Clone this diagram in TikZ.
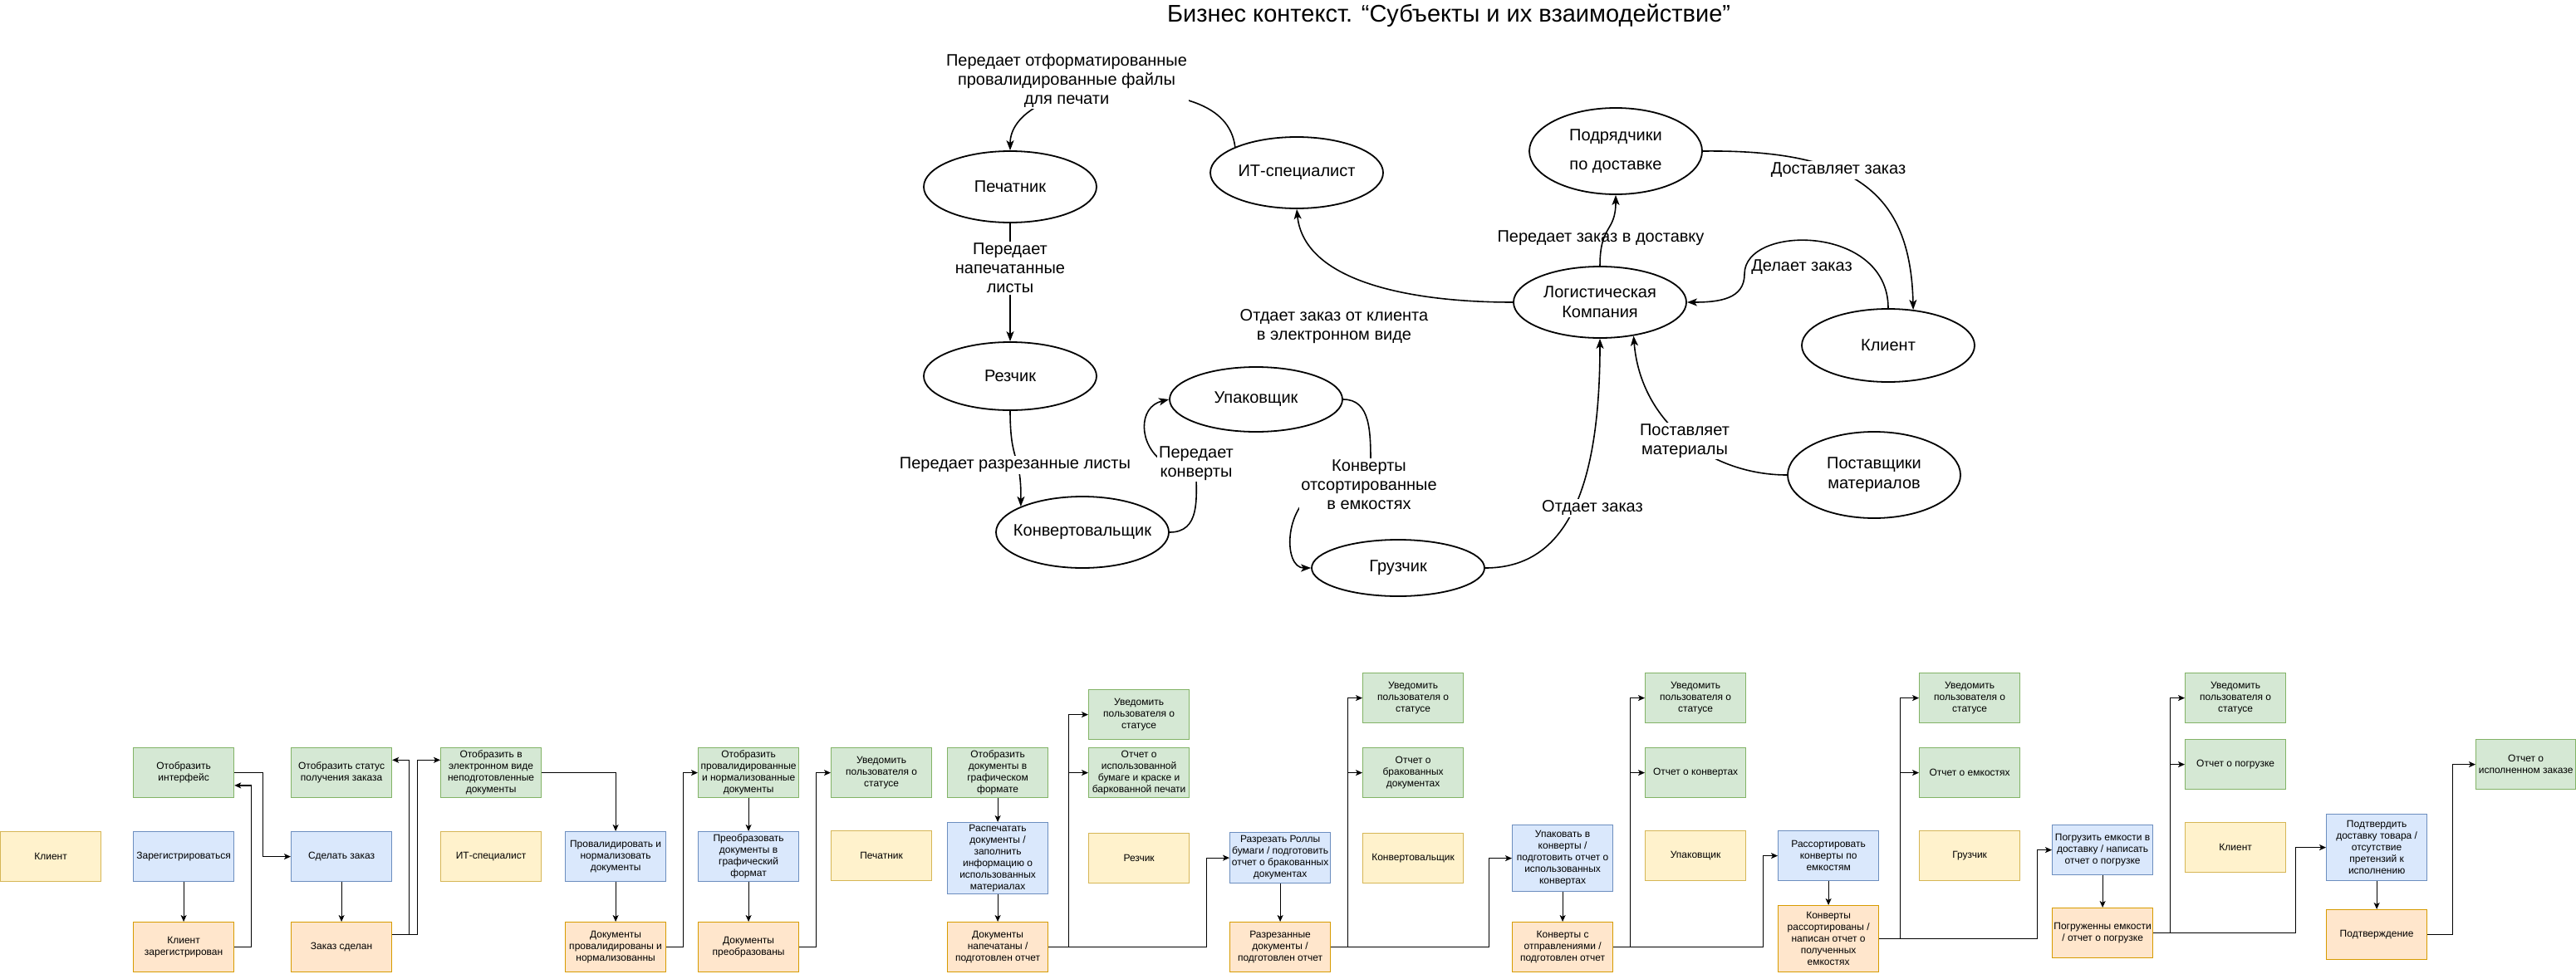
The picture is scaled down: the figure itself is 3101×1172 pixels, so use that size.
\documentclass[tikz,border=0pt]{standalone}
\usepackage{fontspec}
\setmainfont{Liberation Sans}
\usetikzlibrary{arrows.meta,calc,shapes.geometric}
\definecolor{gfill}{HTML}{D5E8D4}
\definecolor{gdraw}{HTML}{82B366}
\definecolor{bfill}{HTML}{DAE8FC}
\definecolor{bdraw}{HTML}{6C8EBF}
\definecolor{ofill}{HTML}{FFE6CC}
\definecolor{odraw}{HTML}{D79B00}
\definecolor{yfill}{HTML}{FFF2CC}
\definecolor{ydraw}{HTML}{D6B656}
\newcommand{\zb}[1]{\makebox[0pt]{#1}}
\begin{document}
\begin{tikzpicture}[x=1pt,y=-1pt,
  box/.style={draw, line width=1.2pt, minimum width=121pt, minimum height=60pt, inner sep=1pt, align=center, font=\fontsize{12}{14}\selectfont, anchor=north west},
  gbox/.style={box, fill=gfill, draw=gdraw},
  bbox/.style={box, fill=bfill, draw=bdraw},
  obox/.style={box, fill=ofill, draw=odraw},
  ybox/.style={box, fill=yfill, draw=ydraw},
  ell/.style={ellipse, draw, line width=1.8pt, minimum width=208pt, minimum height=86pt, inner sep=0pt, align=center, font=\fontsize{20}{24}\selectfont},
  lab/.style={align=center, font=\fontsize{20}{23}\selectfont, inner sep=1pt},
  labw/.style={lab, fill=white, inner sep=2pt},
  tarr/.style={line width=1.6pt, -{Stealth[length=12pt,width=9pt,inset=3pt]}},
  barr/.style={line width=1.2pt, -{Stealth[length=8pt,width=7pt,inset=2pt]}},
]
\useasboundingbox[fill=white] (0,0) rectangle (3101,1172);

% ---------- title ----------
\node[font=\fontsize{29}{34}\selectfont] (title) at (1744,19) {Бизнес контекст. “Субъекты и их взаимодействие”};

% ---------- top ellipses ----------
\node[ell] (pech) at (1216,225) {\zb{Печатник}};
\node[ell] (it) at (1561,208) {\zb{ИТ-специалист}};
\node[ell, minimum height=104pt] (podr) at (1945,182) {\zb{Подрядчики}\\[11pt]\zb{по доставке}};
\node[ell] (log) at (1926,364) {\zb{Логистическая}\\\zb{Компания}};
\node[ell, minimum height=88pt] (kl) at (2273,416) {\zb{Клиент}};
\node[ell, minimum height=104pt] (post) at (2256,572) {\zb{Поставщики}\\\zb{материалов}};
\node[ell, minimum height=82pt] (rez) at (1216,453) {\zb{Резчик}};
\node[ell, minimum height=78pt] (upak) at (1512,481) {\zb{Упаковщик}};
\node[ell] (konv) at (1303,641) {\zb{Конвертовальщик}};
\node[ell, minimum height=68pt] (gruz) at (1683,684) {\zb{Грузчик}};

% ---------- top connectors ----------
\draw[tarr] (it.north west) .. controls (1480,125) and (1420,110) .. (1330,110) .. controls (1260,110) and (1216,140) .. (pech.north);
\draw[tarr] (pech) -- (rez);
\draw[tarr] (rez.south) .. controls (1216,560) and (1229.5,545) .. (konv.north west);
\draw[tarr] (konv.east) .. controls (1445,641) and (1440,600) .. (1440,570) -- (1400,556) .. controls (1370,535) and (1370,490) .. (upak.west);
\draw[tarr] (upak.east) .. controls (1650,481) and (1650,520) .. (1650,560) -- (1585,592) .. controls (1545,612) and (1545,684) .. (gruz.west);
\draw[tarr] (gruz.east) .. controls (1880,684) and (1926,600) .. (log.south);
\draw[tarr] (post.west) .. controls (2060,572) and (1975,510) .. (log.-45);
\draw[tarr] (kl.north) .. controls (2273,270) and (2100,270) .. (2100,330) .. controls (2100,360) and (2070,364) .. (log.east);
\draw[tarr] (log.west) .. controls (1700,364) and (1570,340) .. (it.south);
\draw[tarr] (log.north) .. controls (1926,270) and (1945,280) .. (podr.south);
\draw[tarr] (podr.east) .. controls (2230,180) and (2300,230) .. (kl.55);

% ---------- top labels ----------
\node[labw] (l1) at (1284,97) {Передает отформатированные\\провалидированные файлы\\для печати};
\node[labw] (l2) at (1216,323) {Передает\\напечатанные\\листы};
\node[labw] (l3) at (1222,560) {Передает разрезанные листы};
\node[labw] (l4) at (1440,558) {Передает\\конверты};
\node[labw] (l5) at (1648,584) {Конверты\\отсортированные\\в емкостях};
\node[labw] (l6) at (1917,612) {Отдает заказ};
\node[labw] (l7) at (2028,531) {Поставляет\\материалы};
\node[lab] (l8) at (2169,322) {Делает заказ};
\node[lab] (l9) at (1606,393) {Отдает заказ от клиента\\в электронном виде};
\node[lab] (l10) at (1927,287) {Передает заказ в доставку};
\node[labw] (l11) at (2213,205) {Доставляет заказ};

% ---------- bottom boxes ----------
\node[ybox] (c1) at (0,1001) {Клиент};
\node[gbox] (g1) at (160,900) {Отобразить\\интерфейс};
\node[bbox] (b1) at (160,1001) {Зарегистрироваться};
\node[obox] (o1) at (160,1110) {Клиент\\зарегистрирован};
\node[gbox] (g2) at (350,900) {Отобразить статус\\получения заказа};
\node[bbox] (b2) at (350,1001) {Сделать заказ};
\node[obox] (o2) at (350,1110) {Заказ сделан};
\node[gbox] (g3) at (530,900) {Отобразить в\\электронном виде\\неподготовленные\\документы};
\node[ybox] (c2) at (530,1001) {ИТ-специалист};
\node[bbox] (b3) at (680,1001) {Провалидировать и\\нормализовать\\документы};
\node[obox] (o3) at (680,1110) {Документы\\провалидированы и\\нормализованны};
\node[gbox] (g4) at (840,900) {Отобразить\\провалидированные\\и нормализованные\\документы};
\node[bbox] (b4) at (840,1001) {Преобразовать\\документы в\\графический\\формат};
\node[obox] (o4) at (840,1110) {Документы\\преобразованы};
\node[gbox] (g5) at (1000,900) {Уведомить\\пользователя о\\статусе};
\node[ybox] (c3) at (1000,1000) {Печатник};
\node[gbox] (g6) at (1140,900) {Отобразить\\документы в\\графическом\\формате};
\node[bbox, minimum height=86pt] (b5) at (1140,990) {Распечатать\\документы /\\заполнить\\информацию о\\использованных\\материалах};
\node[obox] (o5) at (1140,1110) {Документы\\напечатаны /\\подготовлен отчет};
\node[gbox] (g7) at (1310,830) {Уведомить\\пользователя о\\статусе};
\node[gbox] (g8) at (1310,900) {Отчет о\\использованной\\бумаге и краске и\\баркованной печати};
\node[ybox] (c4) at (1310,1003) {Резчик};
\node[bbox, minimum height=61pt] (b6) at (1480,1002) {Разрезать Роллы\\бумаги / подготовить\\отчет о бракованных\\документах};
\node[obox] (o6) at (1480,1110) {Разрезанные\\документы /\\подготовлен отчет};
\node[gbox] (g9) at (1640,810) {Уведомить\\пользователя о\\статусе};
\node[gbox] (g10) at (1640,900) {Отчет о\\бракованных\\документах};
\node[ybox] (c5) at (1640,1003) {Конвертовальщик};
\node[bbox, minimum height=80pt] (b7) at (1820,993) {Упаковать в\\конверты /\\подготовить отчет о\\использованных\\конвертах};
\node[obox] (o7) at (1820,1110) {Конверты с\\отправлениями /\\подготовлен отчет};
\node[gbox] (g11) at (1980,810) {Уведомить\\пользователя о\\статусе};
\node[gbox] (g12) at (1980,900) {Отчет о конвертах};
\node[ybox] (c6) at (1980,1000) {Упаковщик};
\node[bbox] (b8) at (2140,1000) {Рассортировать\\конверты по\\емкостям};
\node[obox, minimum height=80pt] (o8) at (2140,1090) {Конверты\\рассортированы /\\написан отчет о\\полученных\\емкостях};
\node[gbox] (g13) at (2310,810) {Уведомить\\пользователя о\\статусе};
\node[gbox] (g14) at (2310,900) {Отчет о емкостях};
\node[ybox] (c7) at (2310,1000) {Грузчик};
\node[bbox] (b9) at (2470,993) {Погрузить емкости в\\доставку / написать\\отчет о погрузке};
\node[obox] (o9) at (2470,1093) {Погруженны емкости\\/ отчет о погрузке};
\node[gbox] (g15) at (2630,810) {Уведомить\\пользователя о\\статусе};
\node[gbox] (g16) at (2630,890) {Отчет о погрузке};
\node[ybox] (c8) at (2630,990) {Клиент};
\node[bbox, minimum height=80pt] (b10) at (2800,980) {Подтвердить\\доставку товара /\\отсутствие\\претензий к\\исполнению};
\node[obox] (o10) at (2800,1095) {Подтверждение};
\node[gbox, minimum width=120pt] (g17) at (2980,890) {Отчет о\\исполненном заказе};

% ---------- bottom connectors ----------
\draw[barr] (g1.east) -- ++(34,0) |- (b2.west);
\draw[barr] (b1) -- (o1);
\draw[barr] (o1.east) -- ++(20,0) |- ($(g1.east)!0.5!(g1.south east)$);
\draw[barr] (b2) -- (o2);
\draw[barr] ($(o2.east)!0.5!(o2.north east)$) -- ++(20,0) |- ($(g2.east)!0.5!(g2.north east)$);
\draw[barr] ($(o2.east)!0.5!(o2.north east)$) -- ++(30,0) |- ($(g3.west)!0.5!(g3.north west)$);
\draw[barr] (g3.east) -| (b3.north);
\draw[barr] (b3) -- (o3);
\draw[barr] (o3.east) -- ++(20,0) |- (g4.west);
\draw[barr] (g4) -- (b4);
\draw[barr] (b4) -- (o4);
\draw[barr] (o4.east) -- ++(20,0) |- (g5.west);
\draw[barr] (g6) -- (b5);
\draw[barr] (b5) -- (o5);
\draw[barr] (o5.east) -- ++(24,0) |- (g7.west);
\draw[barr] (o5.east) -- ++(24,0) |- (g8.west);
\draw[barr] (o5.east) -- ++(190,0) |- (b6.west);
\draw[barr] (b6) -- (o6);
\draw[barr] (o6.east) -- ++(20,0) |- (g9.west);
\draw[barr] (o6.east) -- ++(20,0) |- (g10.west);
\draw[barr] (o6.east) -- ++(190,0) |- (b7.west);
\draw[barr] (b7) -- (o7);
\draw[barr] (o7.east) -- ++(20,0) |- (g11.west);
\draw[barr] (o7.east) -- ++(20,0) |- (g12.west);
\draw[barr] (o7.east) -- ++(180,0) |- (b8.west);
\draw[barr] (b8) -- (o8);
\draw[barr] (o8.east) -- ++(25,0) |- (g13.west);
\draw[barr] (o8.east) -- ++(25,0) |- (g14.west);
\draw[barr] (o8.east) -- ++(190,0) |- (b9.west);
\draw[barr] (b9) -- (o9);
\draw[barr] (o9.east) -- ++(20,0) |- (g15.west);
\draw[barr] (o9.east) -- ++(20,0) |- (g16.west);
\draw[barr] (o9.east) -- ++(171,0) |- (b10.west);
\draw[barr] (b10) -- (o10);
\draw[barr] (o10.east) -- ++(30,0) |- (g17.west);
\end{tikzpicture}
\end{document}
